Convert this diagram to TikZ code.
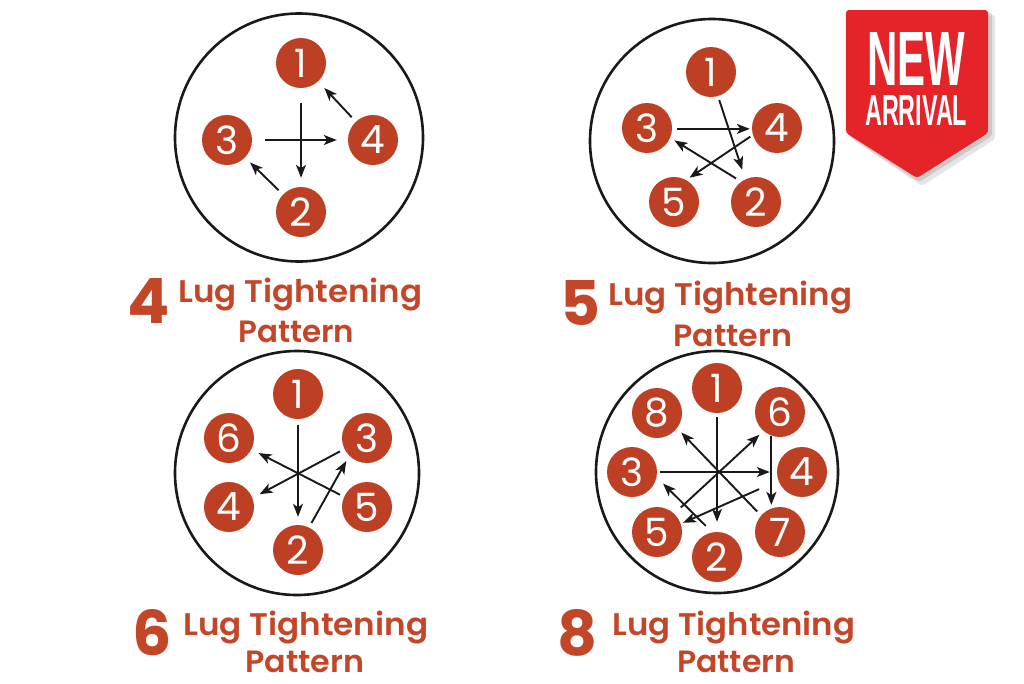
\documentclass[tikz,border=0pt]{standalone}
\usepackage{fontspec}
\setmainfont{Poppins}
\newfontfamily\labfont{Poppins SemiBold}
\newfontfamily\badgefont{Liberation Sans}
\usepackage{graphicx}
\usetikzlibrary{arrows.meta}
\definecolor{lugc}{RGB}{190,64,36}
\definecolor{labc}{RGB}{196,70,40}
\definecolor{badgered}{RGB}{229,36,42}
\newcommand{\lugtitle}[1]{\raisebox{0pt}[\height][0pt]{\resizebox{#1}{24.5pt}{\labfont Lug Tightening}}}
\tikzset{
  lug/.style={circle,fill=lugc,minimum size=50pt,inner sep=0pt,text=white,font=\fontsize{39}{39}\selectfont},
  wheel/.style={circle,draw=black!90,line width=2.6pt,inner sep=0pt},
  arr/.style={draw=black!90,line width=1.9pt,-{Stealth[length=13pt,width=10pt,inset=3.5pt]}},
  lab/.style={inner sep=0pt,anchor=base west,text=labc},
}
\begin{document}
\begin{tikzpicture}[x=1pt,y=-1pt]
\useasboundingbox (0,0) rectangle (1024,683);
\fill[white] (0,0) rectangle (1024,683);

% ---------- 4 lug ----------
\node[wheel,minimum size=248pt] (w1) at (299,137.5) {};
\node[lug] (a1) at (301,63) {1};
\node[lug] (a2) at (301,212) {2};
\node[lug] (a3) at (227,140) {3};
\node[lug] (a4) at (373,140) {4};
\draw[arr,shorten <=15pt,shorten >=9pt] (a1) -- (a2);
\draw[arr,shorten <=13pt,shorten >=11pt] (a3) -- (a4);
\draw[arr,shorten <=6pt,shorten >=9pt] (a4) -- (a1);
\draw[arr,shorten <=6pt,shorten >=7pt] (a2) -- (a3);
\node[lab] (n1) at (127,323) {\resizebox{!}{45pt}{\bfseries 4}};
\node[lab] (t1) at (178,302) {\lugtitle{244pt}};
\node[lab] (p1) at (238,342) {\resizebox{116pt}{21.5pt}{\labfont Pattern}};

% ---------- 5 lug ----------
\node[wheel,minimum size=244pt] (w2) at (712,141) {};
\node[lug] (b1) at (711,72) {1};
\node[lug] (b3) at (647,128) {3};
\node[lug] (b4) at (777,128) {4};
\node[lug] (b5) at (674,202) {5};
\node[lug] (b2) at (756,202) {2};
\draw[arr,shorten <=4pt,shorten >=10pt] (b1.286) -- (b2.115);
\draw[arr,shorten <=5pt,shorten >=2pt] (b3.358) -- (b4.182);
\draw[arr,shorten <=3pt,shorten >=4pt] (b4.196) -- (b5.61);
\draw[arr,shorten <=6pt,shorten >=5pt] (b2.126) -- (b3.337);
\node[lab] (n2) at (560,325) {\resizebox{!}{45pt}{\bfseries 5}};
\node[lab] (t2) at (608,305) {\lugtitle{244pt}};
\node[lab] (p2) at (673,346) {\resizebox{119pt}{21.5pt}{\labfont Pattern}};

% ---------- 6 lug ----------
\node[wheel,minimum size=244pt] (w3) at (297,473) {};
\node[lug] (c1) at (298,394) {1};
\node[lug] (c6) at (229,438) {6};
\node[lug] (c3) at (367,438) {3};
\node[lug] (c4) at (229,507) {4};
\node[lug] (c5) at (367,507) {5};
\node[lug] (c2) at (298,550) {2};
\draw[arr,shorten <=6pt,shorten >=8pt] (c1) -- (c2);
\draw[arr,shorten <=5pt,shorten >=6pt] (c2.64) -- (c3.225);
\draw[arr,shorten <=5pt,shorten >=8pt] (c3.206) -- (c4.21);
\draw[arr,shorten <=4.5pt,shorten >=8pt] (c5.156) -- (c6.333);
\node[lab] (n3) at (132,655) {\resizebox{!}{46pt}{\bfseries 6}};
\node[lab] (t3) at (183,635) {\lugtitle{245pt}};
\node[lab] (p3) at (245,672) {\resizebox{119pt}{21.5pt}{\labfont Pattern}};

% ---------- 8 lug ----------
\node[wheel,minimum size=242pt] (w4) at (717,472) {};
\node[lug] (d1) at (717,388) {1};
\node[lug] (d8) at (657,413) {8};
\node[lug] (d6) at (780,412) {6};
\node[lug] (d3) at (632,472) {3};
\node[lug] (d4) at (802,472) {4};
\node[lug] (d5) at (657,532) {5};
\node[lug] (d7) at (780,532) {7};
\node[lug] (d2) at (717,557) {2};
\draw[arr,shorten <=4pt,shorten >=10pt] (d1) -- (d2);
\draw[arr,shorten <=9pt,shorten >=9pt] (d2.101) -- (d3.348);
\draw[arr,shorten <=3pt,shorten >=7pt] (d3) -- (d4);
\draw[arr,shorten <=21pt,shorten >=2.5pt] (d4.200) -- (d5.19);
\draw[arr,shorten <=9pt,shorten >=5.5pt] (d5.47) -- (d6.229);
\draw[arr,shorten >=3.5pt] (d6.250) -- (d7.110);
\draw[arr,shorten <=5.5pt,shorten >=6pt] (d7.139) -- (d8.323);
\node[lab] (n4) at (557,655) {\resizebox{!}{46pt}{\bfseries 8}};
\node[lab] (t4) at (612,635) {\lugtitle{243pt}};
\node[lab] (p4) at (677,672) {\resizebox{118pt}{21.5pt}{\labfont Pattern}};

% ---------- badge ----------
\fill[black,opacity=0.10,rounded corners=3pt] (852,15) -- (995,15) -- (995,139) -- (922,186) -- (852,139) -- cycle;
\fill[black,opacity=0.12,rounded corners=3pt] (849,12) -- (992,12) -- (992,136) -- (919,182) -- (849,136) -- cycle;
\fill[badgered,rounded corners=3pt] (846,10) -- (988,10) -- (988,133) -- (917,178) -- (846,133) -- cycle;
\node[inner sep=0pt,anchor=base west,text=white] (new) at (867,85) {\resizebox{98pt}{53pt}{\badgefont\bfseries NEW}};
\node[inner sep=0pt,anchor=base west,text=white] (arrival) at (865,125) {\resizebox{102pt}{30pt}{\badgefont\bfseries ARRIVAL}};
\end{tikzpicture}
\end{document}
